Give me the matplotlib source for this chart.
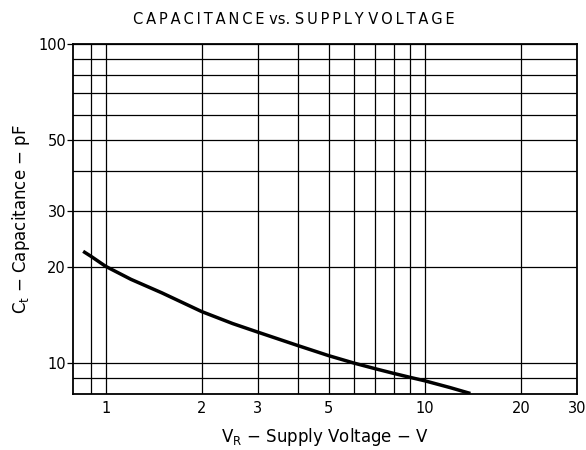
import numpy as np
import matplotlib.pyplot as plt

plt.rcParams['font.family'] = ['DejaVu Sans']

# curve
v_r = [0.85, 0.9, 1.0, 1.2, 1.5, 2.0, 2.5, 3.0, 4.0, 5.0, 6.0, 7.0, 8.0, 9.0, 10.0, 12.0, 13.9]
c_t = [22.4, 21.6, 20.1, 18.3, 16.6, 14.5, 13.3, 12.5, 11.35, 10.55, 10.0, 9.6, 9.28, 9.02, 8.8, 8.38, 8.03]

x_grid = [0.9, 1, 2, 3, 4, 5, 6, 7, 8, 9, 10, 20, 30]
x_labels = [1, 2, 3, 5, 10, 20, 30]
y_grid = [9, 10, 20, 30, 40, 50, 60, 70, 80, 90, 100]
y_labels = [10, 20, 30, 50, 100]

fig = plt.figure(figsize=(5.86, 4.5), dpi=100)
ax = fig.add_axes([73/586, 1-394/450, (577-73)/586, (394-44)/450])

ax.set_xscale('log')
ax.set_yscale('log')
ax.set_xlim(0.79, 30)
ax.set_ylim(8, 100)

for xv in x_grid:
    ax.axvline(xv, color='black', lw=0.9, zorder=1)
for yv in y_grid:
    ax.axhline(yv, color='black', lw=0.9, zorder=1)

ax.plot(v_r, c_t, color='black', lw=2.5, zorder=3, solid_capstyle='butt', solid_joinstyle='round')

ax.xaxis.set_minor_locator(plt.NullLocator())
ax.yaxis.set_minor_locator(plt.NullLocator())
ax.set_xticks(x_labels)
ax.set_xticklabels([str(v) for v in x_labels])
ax.set_yticks(y_labels)
ax.set_yticklabels([str(v) for v in y_labels])
ax.tick_params(axis='both', length=0, labelsize=10.5, pad=5)
ax.tick_params(axis='y', length=4, width=0.9, pad=1)

for s in ax.spines.values():
    s.set_linewidth(1.3)

ax.set_xlabel(r'V$_\mathregular{R}$ − Supply Voltage − V', fontsize=12, labelpad=7)
ax.set_ylabel(r'C$_\mathregular{t}$ − Capacitance − pF', fontsize=12, labelpad=4)

words = ['CAPACITANCE', 'vs.', 'SUPPLY', 'VOLTAGE']
spaced = ' '.join(w if w == 'vs.' else '\u2009'.join(w) for w in words)
fig.text(294/586, 1-20/450, spaced, ha='center', va='center', fontsize=10.5)

fig.savefig('out.png', dpi=100)
